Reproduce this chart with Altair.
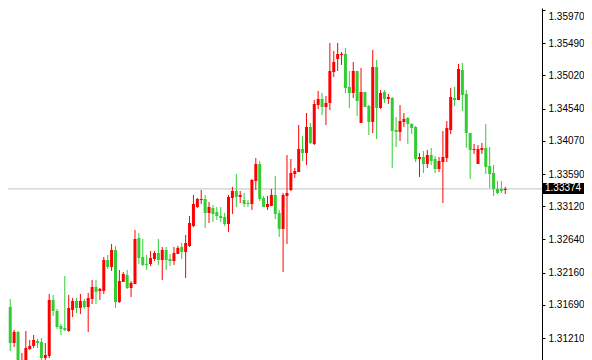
import altair as alt
import pandas as pd

open_ = [1.31660,1.31138,1.31298,1.30790,1.30848,1.31051,1.31095,1.31167,1.31153,1.30920,
         1.30949,1.31762,1.31602,1.31385,1.31356,1.31312,1.31617,1.31748,1.31646,1.31748,
         1.31660,1.31777,1.31951,1.31893,1.31893,1.32342,1.32241,1.32488,1.31733,1.32023,
         1.32125,1.31936,1.31994,1.32662,1.32386,1.32284,1.32284,1.32357,1.32444,1.32342,
         1.32488,1.32357,1.32328,1.32430,1.32531,1.32459,1.32546,1.32836,1.33111,1.33213,
         1.33228,1.33024,1.33097,1.33039,1.32981,1.32966,1.32865,1.33242,1.33344,1.33257,
         1.33213,1.33170,1.33155,1.33489,1.33735,1.33242,1.33111,1.33126,1.33286,1.33024,
         1.32792,1.33271,1.33358,1.33590,1.33619,1.33953,1.33895,1.34272,1.34026,1.34591,
         1.34679,1.34562,1.34621,1.35070,1.35259,1.35317,1.35332,1.34853,1.34766,1.35085,
         1.34330,1.34780,1.34577,1.34345,1.35143,1.34548,1.34780,1.34679,1.34693,1.34229,
         1.34200,1.34345,1.34403,1.34316,1.34272,1.33808,1.33837,1.33735,1.33866,1.33808,
         1.33663,1.33764,1.33822,1.34229,1.34693,1.34664,1.35099,1.34751,1.34185,1.33939,
         1.33735,1.33939,1.33968,1.33706,1.33605,1.33373,1.33373,1.33358]
high = [1.31777,1.31327,1.31312,1.30993,1.31312,1.31182,1.31254,1.31196,1.31211,1.31138,
        1.31849,1.31835,1.31631,1.31414,1.32110,1.31835,1.31791,1.31791,1.31849,1.31777,
        1.31864,1.32052,1.32052,1.31936,1.32386,1.32415,1.32575,1.32546,1.32197,1.32168,
        1.32197,1.32038,1.32778,1.32734,1.32647,1.32415,1.32473,1.32473,1.32647,1.32531,
        1.32531,1.32430,1.32531,1.32546,1.32589,1.32705,1.32981,1.33286,1.33242,1.33358,
        1.33286,1.33184,1.33140,1.33111,1.33111,1.33024,1.33286,1.33402,1.33590,1.33344,
        1.33315,1.33213,1.33518,1.33822,1.33779,1.33271,1.33271,1.33373,1.33561,1.33068,
        1.33315,1.33866,1.33808,1.33677,1.34301,1.34142,1.34475,1.34330,1.34664,1.34795,
        1.34766,1.34722,1.35491,1.35375,1.35491,1.35361,1.35419,1.35085,1.35215,1.35085,
        1.35128,1.34780,1.34591,1.35390,1.35244,1.34809,1.34809,1.34751,1.34708,1.34417,
        1.34591,1.34475,1.34417,1.34330,1.34287,1.33895,1.33924,1.33939,1.33968,1.33851,
        1.33837,1.34214,1.34359,1.34838,1.34853,1.35186,1.35201,1.34809,1.34185,1.34026,
        1.34011,1.34040,1.34316,1.33982,1.33721,1.33489,1.33489,1.33402]
low = [1.31022,1.31080,1.30819,1.30746,1.30790,1.31037,1.31066,1.31066,1.30833,1.30862,
       1.30920,1.31530,1.31341,1.31254,1.31312,1.31298,1.31515,1.31573,1.31559,1.31631,
       1.31298,1.31704,1.31704,1.31762,1.31849,1.32212,1.32183,1.31646,1.31719,1.32023,
       1.31922,1.31806,1.31994,1.32284,1.32255,1.32197,1.32255,1.32328,1.32270,1.32052,
       1.32197,1.32255,1.32270,1.32430,1.32357,1.32081,1.32531,1.32821,1.33097,1.33155,
       1.32807,1.32879,1.32894,1.32923,1.32894,1.32836,1.32749,1.33010,1.33111,1.33170,
       1.33111,1.33111,1.33068,1.33358,1.33199,1.33111,1.33068,1.33126,1.32937,1.32676,
       1.32168,1.32575,1.33344,1.33532,1.33619,1.33779,1.33721,1.34026,1.34011,1.34533,
       1.34446,1.34301,1.34519,1.34998,1.35085,1.35172,1.34766,1.34548,1.34693,1.34432,
       1.34330,1.34562,1.34156,1.34185,1.34098,1.34533,1.34621,1.34606,1.33677,1.33982,
       1.34069,1.34272,1.34026,1.34171,1.33764,1.33547,1.33605,1.33677,1.33721,1.33605,
       1.33619,1.33170,1.33764,1.34171,1.34577,1.34664,1.34504,1.33968,1.33518,1.33881,
       1.33735,1.33881,1.33590,1.33387,1.33271,1.33300,1.33315,1.33300]
close = [1.31138,1.31298,1.30862,1.30862,1.31066,1.31095,1.31182,1.31138,1.30920,1.30964,
         1.31762,1.31602,1.31370,1.31341,1.31327,1.31646,1.31748,1.31646,1.31748,1.31660,
         1.31791,1.31951,1.31878,1.31922,1.32342,1.32241,1.32488,1.31733,1.32038,1.32139,
         1.31936,1.32009,1.32647,1.32371,1.32270,1.32270,1.32371,1.32444,1.32342,1.32488,
         1.32342,1.32328,1.32444,1.32517,1.32459,1.32589,1.32879,1.33155,1.33228,1.33228,
         1.33024,1.33111,1.33010,1.32981,1.32952,1.32865,1.33257,1.33344,1.33257,1.33286,
         1.33155,1.33155,1.33503,1.33735,1.33228,1.33111,1.33155,1.33286,1.33010,1.32792,
         1.33286,1.33315,1.33605,1.33634,1.33953,1.33895,1.34272,1.34040,1.34606,1.34679,
         1.34562,1.34621,1.35085,1.35215,1.35332,1.35332,1.34838,1.34766,1.35085,1.34650,
         1.34780,1.34562,1.34345,1.35143,1.34548,1.34766,1.34679,1.34708,1.34214,1.34200,
         1.34359,1.34388,1.34316,1.34258,1.33808,1.33837,1.33735,1.33866,1.33779,1.33663,
         1.33779,1.33837,1.34258,1.34708,1.34664,1.35114,1.34737,1.34185,1.33939,1.33953,
         1.33953,1.33968,1.33692,1.33590,1.33373,1.33315,1.33344,1.33374]

tick_values = [1.35970, 1.35490, 1.35020, 1.34540, 1.34070, 1.33590,
               1.33120, 1.32640, 1.32160, 1.31690, 1.31210]
current_price = 1.33374

df = pd.DataFrame({"i": list(range(len(open_))), "open": open_, "high": high,
                   "low": low, "close": close})

RED = "#FF0000"
GREEN = "#32CD32"
FONT = "Liberation Sans"
PLOT_W = 534
RIGHT = 42

yscale = alt.Scale(domain=[1.30891, 1.35999], nice=False, zero=False, padding=0)
xscale = alt.Scale(domain=[-0.575, 136.425], nice=False, zero=False, padding=0)
yaxis = alt.Axis(orient="right", values=tick_values, format=".5f", title=None,
                 grid=False, domainColor="black", tickColor="black", tickSize=3,
                 labelColor="black", labelFont=FONT, labelFontSize=10,
                 labelPadding=3, labelFlush=4, labelFlushOffset=-2,
                 labelOverlap=False, offset=0)

color = alt.Color("up:N", scale=alt.Scale(domain=[True, False], range=[RED, GREEN]),
                  legend=None)

base = alt.Chart(df).transform_calculate(up="datum.close >= datum.open")

wicks = base.mark_rule(strokeWidth=1, clip=True).encode(
    x=alt.X("i:Q", scale=xscale, axis=None),
    y=alt.Y("high:Q", scale=yscale, axis=yaxis),
    y2="low:Q",
    color=color,
)

bodies = base.mark_bar(size=3, clip=True, orient="vertical").encode(
    x=alt.X("i:Q", scale=xscale, axis=None),
    y=alt.Y("open:Q", scale=yscale, axis=yaxis),
    y2="close:Q",
    color=color,
)

cur_df = pd.DataFrame({"p": [current_price], "label": [f"{current_price:.5f}"]})
cur = alt.Chart(cur_df)

price_line = cur.mark_rule(color="#C0C0C0", strokeWidth=1).encode(
    y=alt.Y("p:Q", scale=yscale, axis=yaxis),
)

box = cur.mark_rect(color="black", yOffset=-6, y2Offset=5).encode(
    x=alt.value(PLOT_W + 1), x2=alt.value(PLOT_W + RIGHT),
    y=alt.Y("p:Q", scale=yscale, axis=yaxis),
    y2="p:Q",
)

box_text = cur.mark_text(align="left", baseline="middle", color="white",
                         font=FONT, fontSize=10, dy=-0.5).encode(
    x=alt.value(PLOT_W + 3),
    y=alt.Y("p:Q", scale=yscale, axis=yaxis),
    text="label:N",
)

chart = alt.layer(price_line, wicks, bodies, box, box_text).properties(
    width=PLOT_W, height=352,
    autosize=alt.AutoSizeParams(type="none"),
    padding={"left": 0, "top": 0, "right": RIGHT, "bottom": 0},
    background="white",
).configure_view(stroke=None).configure_scale(continuousPadding=0)

chart.save("out.html", embed_options={"renderer": "svg", "actions": False})
